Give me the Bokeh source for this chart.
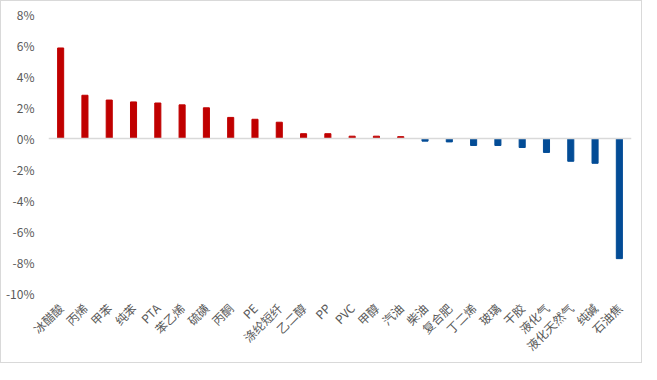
import math
from bokeh.plotting import figure
from bokeh.models import ColumnDataSource, Span, FixedTicker, FactorRange, Range1d, CustomJSTickFormatter
from bokeh.embed import file_html
from bokeh.resources import INLINE

categories = ["冰醋酸", "丙烯", "甲苯", "纯苯", "PTA", "苯乙烯", "硫磺", "丙酮", "PE", "涤纶短纤",
              "乙二醇", "PP", "PVC", "甲醇", "汽油", "柴油", "复合肥", "丁二烯", "玻璃", "干胶",
              "液化气", "液化天然气", "纯碱", "石油焦"]
values = [5.84, 2.79, 2.48, 2.36, 2.29, 2.17, 1.98, 1.36, 1.24, 1.05,
          0.31, 0.31, 0.15, 0.15, 0.12, -0.17, -0.22, -0.45, -0.45, -0.58,
          -0.9, -1.47, -1.6, -7.75]
y_ticks = [-10, -8, -6, -4, -2, 0, 2, 4, 6, 8]

colors = ["#C00000" if v >= 0 else "#034C96" for v in values]
src = ColumnDataSource(dict(cat=categories, val=values, color=colors))

p = figure(x_range=FactorRange(*categories), y_range=Range1d(-10, 8),
           width=641, height=364, output_backend="svg", toolbar_location=None,
           min_border_left=47, min_border_right=10, min_border_top=13, min_border_bottom=10)
p.frame_width = 583
p.frame_height = 279
p.x_range.range_padding = 0
p.vbar(x="cat", top="val", bottom=0, width=0.25, color="color", source=src)

p.add_layout(Span(location=0, dimension="width", line_color="#d9d9d9", line_width=1.5))

p.xgrid.visible = False
p.ygrid.visible = False
p.outline_line_color = None
p.styles = {"border": "1px solid #d9d9d9"}

p.yaxis.ticker = FixedTicker(ticks=y_ticks)
p.yaxis.formatter = CustomJSTickFormatter(code="return tick + '%';")
p.yaxis.axis_line_color = None
p.yaxis.major_tick_line_color = None
p.yaxis.minor_tick_line_color = None
p.yaxis.major_label_text_font = "Noto Sans CJK SC"
p.yaxis.major_label_text_font_size = "12px"
p.yaxis.major_label_text_color = "#595959"
p.yaxis.major_label_standoff = 8

p.xaxis.axis_line_color = None
p.xaxis.major_tick_line_color = None
p.xaxis.minor_tick_line_color = None
p.xaxis.major_label_orientation = math.pi / 4
p.xaxis.major_label_text_font = "Noto Sans CJK SC"
p.xaxis.major_label_text_font_size = "12px"
p.xaxis.major_label_text_color = "#595959"
p.xaxis.major_label_standoff = 6

open("out.html", "w").write(file_html(p, INLINE))
